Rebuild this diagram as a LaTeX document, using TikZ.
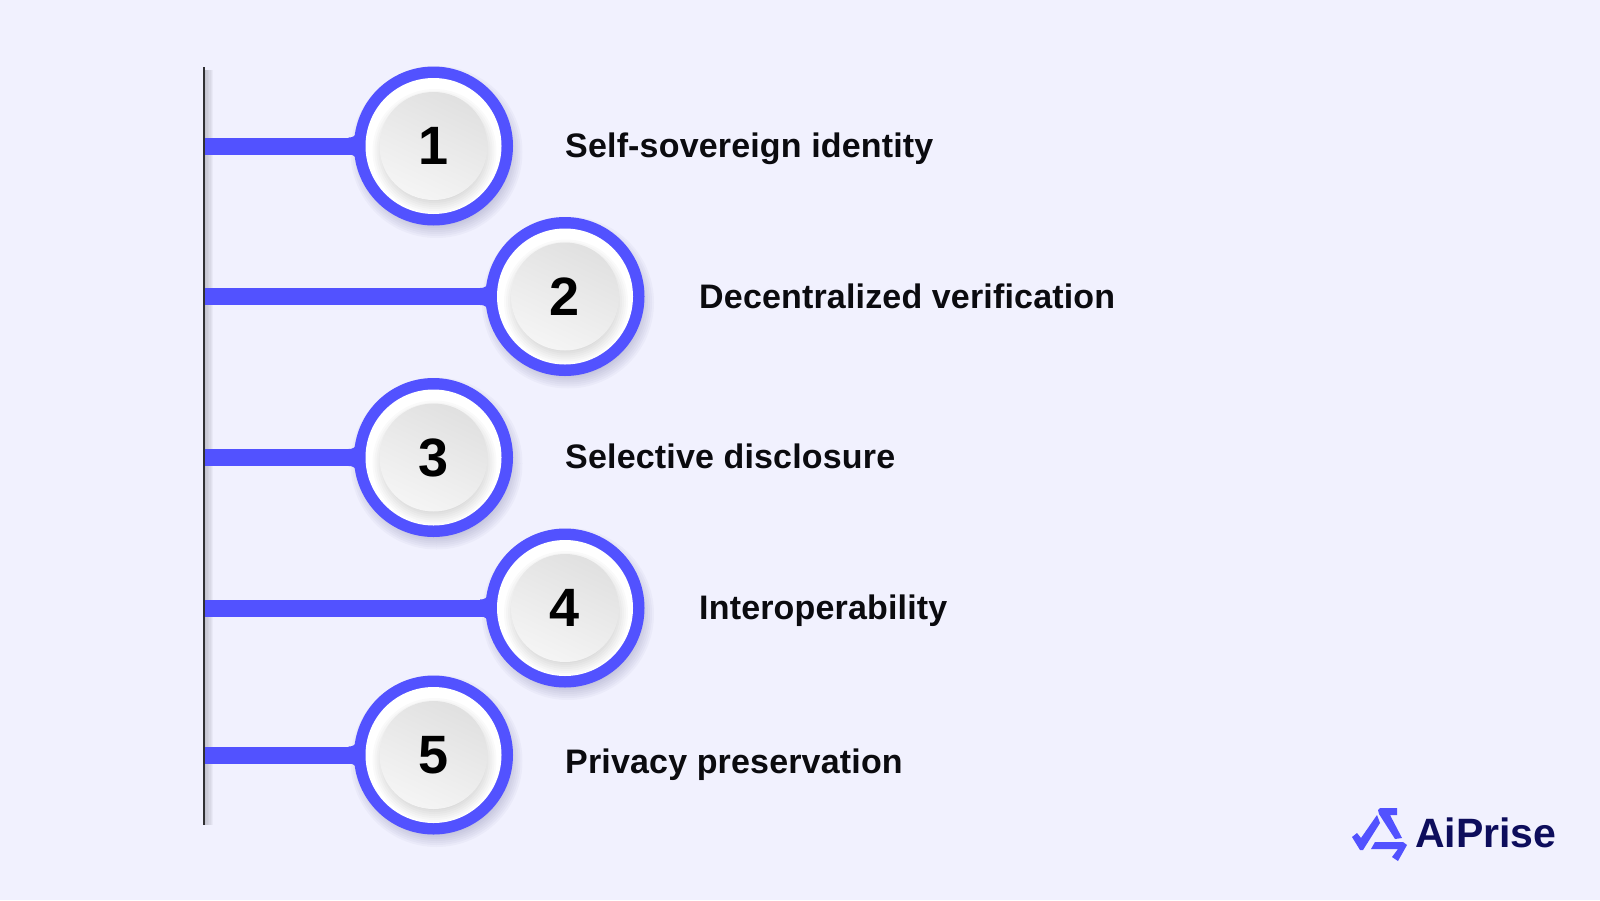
\documentclass[tikz,border=0pt]{standalone}
\usepackage{fontspec}
\setmainfont{Liberation Sans}
\newfontfamily\labfont{Liberation Sans Bold}[LetterSpace=0.5]
\newfontfamily\numfont{Liberation Sans Bold}
\newfontfamily\logofont{Liberation Sans Bold}
\definecolor{bgc}{HTML}{F1F1FE}
\definecolor{bluec}{HTML}{5252FF}
\definecolor{navyc}{HTML}{0D0D5C}
\definecolor{lgc}{HTML}{0B0B0F}
\tikzset{
 x=1pt,y=-1pt,
 ring/.style={circle,fill=bluec,minimum size=159pt,inner sep=0pt},
 disc/.style={circle,minimum size=136pt,inner sep=0pt,fill=white},
 knob/.style={circle,minimum size=108pt,inner sep=0pt,shading=axis,top color=black!12,bottom color=black!4,shading angle=-25,font=\fontsize{54}{54}\selectfont\numfont,text=black},
 lab/.style={anchor=base west,inner sep=0pt,font=\fontsize{34}{34}\selectfont\labfont,text=lgc},
 bar/.style={draw=bluec,line width=17pt},
}
\newcommand{\softshadow}[4]{%
 \foreach \k in {0,2,...,14}{\fill[navyc,opacity=#4] (#1+3,#2+6) circle ({#3+8-\k});}
}
\newcommand{\badge}[4]{%
 \softshadow{#2}{#3}{78}{0.026}
 \coordinate (s#1) at (204,#3);
 \draw[bar] (s#1) -- (#2-70,#3);
 \fill[bluec] (#2-85,#3-8.5) .. controls (#2-80,#3-8.5) and (#2-79,#3-10) .. (#2-76,#3-14) -- (#2-76,#3+14) .. controls (#2-79,#3+10) and (#2-80,#3+8.5) .. (#2-85,#3+8.5) -- cycle;
 \node[ring] (r#1) at (#2,#3) {};
 \node[disc] (d#1) at (#2,#3) {};
 \begin{scope}
 \clip (#2,#3) circle (68);
 \foreach \k in {0,2,...,14}{\fill[black,opacity=.02] (#2+1,#3+5) circle ({54+8-\k});}
 \end{scope}
 \node[knob] (k#1) at (#2,#3) {#4};
}
\begin{document}
\begin{tikzpicture}
\useasboundingbox (0,0) rectangle (1600,900);
\fill[bgc] (0,0) rectangle (1600,900);
\foreach \k in {1,...,6}{\fill[black,opacity=.03] (204,70) rectangle (205+\k*1.4,825);}
\coordinate (vt) at (204,67);
\coordinate (vb) at (204,825);
\badge{a}{433.5}{146}{1}
\badge{b}{565}{296.5}{2}
\badge{c}{433.5}{457.5}{3}
\badge{d}{565}{608}{4}
\badge{e}{433.5}{755}{5}
\draw[lgc!85,line width=2pt] (vt) -- (vb);
\node[lab] (la) at (565,157) {Self-sovereign identity};
\node[lab] (lb) at (699,308) {Decentralized verification};
\node[lab] (lc) at (565,468) {Selective disclosure};
\node[lab] (ld) at (699,619) {Interoperability};
\node[lab] (le) at (565,773) {Privacy preservation};
\node[anchor=base west,font=\fontsize{41}{41}\selectfont\logofont,text=navyc,inner sep=0pt] (logo) at (1415,847) {AiPrise};
\fill[bluec] (1378,810) -- (1380,808) -- (1397,808) -- (1397,815) -- (1390,815) -- (1402,838) -- (1395,839) -- (1379,814) -- cycle;
\fill[bluec] (1352,837) -- (1357,833) -- (1361,838) -- (1377,815) -- (1380,823) -- (1363,850) -- (1360,850) -- cycle;
\fill[bluec] (1375,842) -- (1403,842) -- (1407,845) -- (1398,861) -- (1392,857) -- (1398,849) -- (1371,849) -- cycle;
\end{tikzpicture}
\end{document}
